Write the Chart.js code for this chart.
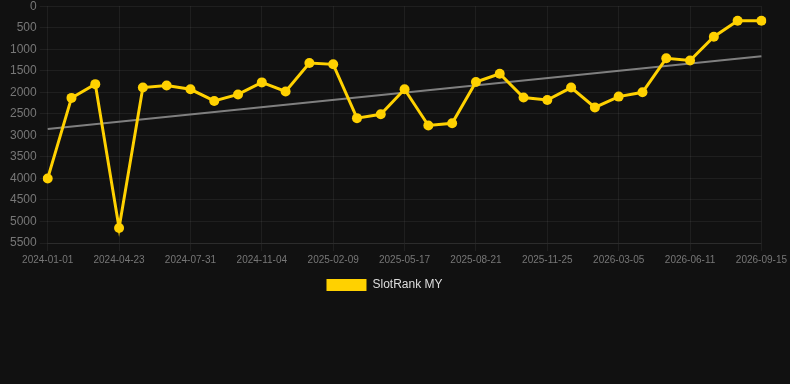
<!DOCTYPE html>
<html>
<head>
<meta charset="utf-8">
<script src="https://cdn.jsdelivr.net/npm/chart.js@4"></script>
<style>
  html, body { margin: 0; padding: 0; background: #111111; overflow: hidden; }
  #wrap { width: 790px; height: 305px; margin-top: -4px; }
</style>
</head>
<body>
<div id="wrap"><canvas id="chartRank"></canvas></div>
<script>
// datos
const fechas = [
  "2024-01-01", "2024-02-07", "2024-03-16", "2024-04-23", "2024-05-26",
  "2024-06-28", "2024-07-31", "2024-09-01", "2024-10-03", "2024-11-04",
  "2024-12-06", "2025-01-08", "2025-02-09", "2025-03-13", "2025-04-15",
  "2025-05-17", "2025-06-18", "2025-07-20", "2025-08-21", "2025-09-22",
  "2025-10-24", "2025-11-25", "2025-12-28", "2026-01-30", "2026-03-05",
  "2026-04-06", "2026-05-09", "2026-06-11", "2026-07-13", "2026-08-14",
  "2026-09-15",
];

const rankMY = [
  4000, 2130, 1810, 5150, 1890, 1840, 1930, 2200, 2050, 1770,
  1980, 1320, 1350, 2600, 2510, 1930, 2770, 2720, 1760, 1570,
  2120, 2180, 1890, 2350, 2100, 2000, 1210, 1260, 710, 340,
  340,
];

// extremos de la linea de tendencia
const tendenciaInicio = 2850;
const tendenciaFin = 1160;

const ultimo = fechas.length - 1;
const tendencia = fechas.map((_, i) =>
  i === 0 ? tendenciaInicio : i === ultimo ? tendenciaFin : null
);

const fuente = "Helvetica, Arial, 'Liberation Sans', sans-serif";

const ctx = document.getElementById("chartRank").getContext("2d");
new Chart(ctx, {
  type: "line",
  data: {
    labels: fechas,
    datasets: [
      {
        label: "SlotRank MY",
        data: rankMY,
        borderColor: "#FFD100",
        backgroundColor: "#FFD100",
        borderWidth: 3,
        pointRadius: 5,
        pointBackgroundColor: "#FFD100",
        pointBorderWidth: 0,
        tension: 0,
      },
      {
        label: "trend",
        data: tendencia,
        borderColor: "rgba(140,140,140,0.9)",
        borderWidth: 2,
        pointRadius: 0,
        spanGaps: true,
      },
    ],
  },
  options: {
    responsive: true,
    maintainAspectRatio: false,
    animation: false,
    layout: { padding: { left: 7, right: 28, top: 0 } },
    plugins: {
      legend: {
        position: "bottom",
        labels: {
          color: "#dddddd",
          boxWidth: 40,
          boxHeight: 12,
          font: { family: fuente, size: 12 },
          generateLabels: (chart) =>
            Chart.defaults.plugins.legend.labels
              .generateLabels(chart)
              .filter((item) => item.text !== "trend")
              .map((item) => ({ ...item, lineWidth: 0 })),
        },
      },
      tooltip: { enabled: false },
    },
    scales: {
      x: {
        grid: { color: "rgba(255,255,255,0.06)" },
        border: { color: "rgba(255,255,255,0.06)" },
        ticks: {
          color: "#777777",
          font: { family: fuente, size: 10 },
          autoSkip: false,
          maxRotation: 0,
          padding: 3,
          callback: function (value, index) {
            return index % 3 === 0 ? this.getLabelForValue(value) : null;
          },
        },
      },
      y: {
        reverse: true,
        min: 0,
        max: 5500,
        grid: { color: "rgba(255,255,255,0.06)" },
        border: { display: false },
        ticks: {
          stepSize: 500,
          color: "#777777",
          font: { family: fuente, size: 12 },
          callback: (v) => String(v),
        },
      },
    },
  },
});
</script>
</body>
</html>
